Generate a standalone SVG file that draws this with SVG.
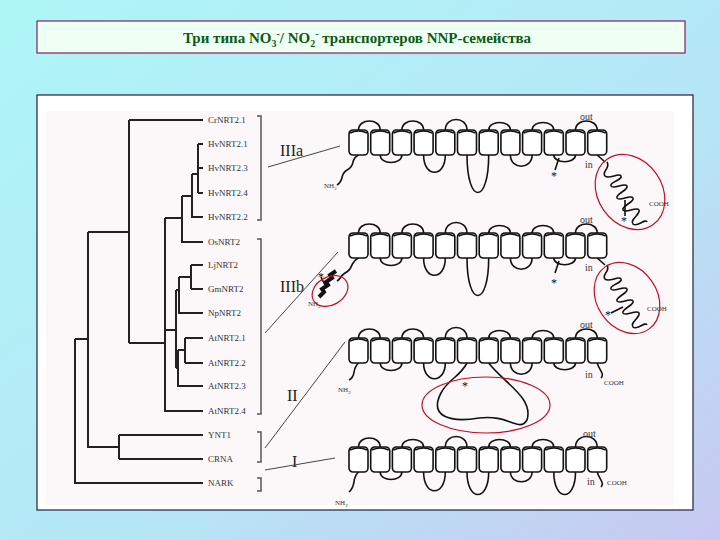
<svg xmlns="http://www.w3.org/2000/svg" width="720" height="540" viewBox="0 0 720 540">
<defs>
<linearGradient id="bg" x1="0" y1="0" x2="1" y2="1"><stop offset="0" stop-color="#aef6f6"/><stop offset="0.6" stop-color="#b6e6f6"/><stop offset="1" stop-color="#c8c8f2"/></linearGradient>
<style>
.t{font-family:"Liberation Serif",serif;fill:#222}
.lf{font-family:"Liberation Serif",serif;font-size:9px;fill:#333}
.br{stroke:#555;stroke-width:1.5;fill:none}
.tr{stroke:#222;stroke-width:2;fill:none}
.ln{stroke:#444;stroke-width:1;fill:none}
.lp{stroke:#111;stroke-width:1.6;fill:none}
.cy{fill:#fff;stroke:#111;stroke-width:1.6}
.red{fill:none;stroke:#c01020;stroke-width:1.2}
.sm{font-family:"Liberation Serif",serif;font-size:7px;fill:#333}
.io{font-family:"Liberation Serif",serif;font-size:10px;fill:#333}
.st{font-family:"Liberation Serif",serif;font-size:12px;fill:#111}
</style>
<g id="cyl"><rect x="0" y="0" width="19" height="25" rx="4" class="cy"/><path d="M1 3 Q9.5 -1 18 3" class="lp" stroke-width="1"/></g>
<g id="top">
<path class="lp" d="M9.5 0 C9.5 -12 31.2 -12 31.2 0 M52.9 0 C52.9 -12 74.6 -12 74.6 0 M96.3 0 C96.3 -14 118 -14 118 0 M139.7 0 C139.7 -10 161.4 -10 161.4 0 M183.1 0 C183.1 -10 204.8 -10 204.8 0 M226.5 0 C226.5 -12 248.2 -12 248.2 0"/>
</g>
<path id="coil" class="lp" d="M0 0 C4 6 -6 10 -2 14 C2 18 12 10 14 14 C16 18 2 20 4 24 C6 28 18 20 20 24 C22 28 8 32 10 36 C12 40 24 32 26 36 C28 40 14 44 16 48 C18 52 30 44 32 48 C34 52 22 58 26 62 C30 66 38 56 40 60"/>
<g id="cyls">
<use href="#cyl" x="0"/><use href="#cyl" x="21.7"/><use href="#cyl" x="43.4"/><use href="#cyl" x="65.1"/><use href="#cyl" x="86.8"/><use href="#cyl" x="108.5"/><use href="#cyl" x="130.2"/><use href="#cyl" x="151.9"/><use href="#cyl" x="173.6"/><use href="#cyl" x="195.3"/><use href="#cyl" x="217"/><use href="#cyl" x="238.7"/>
</g>
</defs>
<rect width="720" height="540" fill="url(#bg)"/>
<rect x="37" y="21" width="648" height="32" fill="#f0fff4" stroke="#802060" stroke-width="1.2"/>
<text x="357" y="43" text-anchor="middle" font-family="Liberation Serif,serif" font-size="15" font-weight="bold" fill="#0a5a14">Три типа NO<tspan font-size="10" dy="4">3</tspan><tspan font-size="10" dy="-10">-</tspan><tspan dy="6">/ NO</tspan><tspan font-size="10" dy="4">2</tspan><tspan font-size="10" dy="-10">-</tspan><tspan dy="6"> транспортеров NNP-семейства</tspan></text>
<rect x="37" y="95" width="656" height="415" fill="#fff" stroke="#202040" stroke-width="1.2"/>
<rect x="46" y="111" width="628" height="394" fill="#fcf8fa"/>

<g id="tree">
<path class="tr" d="M75 339 V483 H203 M75 339 H88 M88 232 V447 H119 M119 435 V459 M119 435 H203 M119 459 H203 M88 232 H129 M129 120 V343 M129 120 H203 M129 343 H165 M165 218 V411 H203 M165 218 H182 M182 196 V242 H203 M182 196 H192 M192 174 V217 H203 M192 174 H198 M198 144 V193 M198 144 H203 M198 168 H203 M198 193 H203 M165 330 H176 M176 290 V368 M176 290 H179 M179 277 V313 H203 M179 277 H191 M191 265 V289 M191 265 H203 M191 289 H203 M176 368 H178 M178 350 V386 H203 M178 350 H185 M185 338 V363 M185 338 H203 M185 363 H203"/>
</g>
<g id="leaves">
<text class="lf" x="208" y="123">CrNRT2.1</text><text class="lf" x="208" y="147">HvNRT2.1</text><text class="lf" x="208" y="171">HvNRT2.3</text><text class="lf" x="208" y="196">HvNRT2.4</text><text class="lf" x="208" y="220">HvNRT2.2</text><text class="lf" x="208" y="245">OsNRT2</text><text class="lf" x="208" y="268">LjNRT2</text><text class="lf" x="208" y="292">GmNRT2</text><text class="lf" x="208" y="316">NpNRT2</text><text class="lf" x="208" y="341">AtNRT2.1</text><text class="lf" x="208" y="366">AtNRT2.2</text><text class="lf" x="208" y="389">AtNRT2.3</text><text class="lf" x="208" y="414">AtNRT2.4</text><text class="lf" x="208" y="438">YNT1</text><text class="lf" x="208" y="462">CRNA</text><text class="lf" x="208" y="486">NARK</text>
</g>
<g id="brackets">
<path class="br" d="M257 116 H261 V220 H257 M257 239 H261 V414 H257 M257 432 H261 V462 H257 M257 478 H261 V491 H257"/>
<text class="t" x="280" y="156" font-size="16">IIIa</text>
<text class="t" x="280" y="292" font-size="16">IIIb</text>
<text class="t" x="287" y="401" font-size="16">II</text>
<text class="t" x="292" y="467" font-size="16">I</text>
<path class="ln" d="M268 167 L340 146 M265 333 L338 252 M265 448 L345 342 M265 470 L335 458"/>
</g>

<g id="type-IIIa" transform="translate(349,130)">
<use href="#top"/>
<path class="lp" d="M31.2 25 C31.2 35 52.9 35 52.9 25 M74.6 25 C74.6 48 96.3 48 96.3 25 M118 25 C118 75 139.7 75 139.7 25 M161.4 25 C161.4 40 183.1 40 183.1 25 M204.8 25 C204.8 34 226.5 34 226.5 25 M9.5 25 C0 30 8 35 -2 40 C-10 45 -4 50 -12 55 M248.2 25 L256 32 M210 28 L206 40 M276 70 L276 86"/>
<use href="#coil" x="258" y="32"/>
<use href="#cyls"/>
<text class="sm" x="-25" y="58">NH<tspan font-size="5" dy="2">2</tspan></text>
<text class="io" x="231" y="-10">out</text>
<text class="io" x="236" y="38">in</text>
<text class="st" x="202" y="50">*</text>
<text class="sm" x="300" y="76">COOH</text>
<text class="st" x="272" y="95">*</text>
</g>
<ellipse class="red" cx="630" cy="192" rx="32" ry="40" transform="rotate(-35 630 192)"/>

<g id="type-IIIb" transform="translate(349,233)">
<use href="#top"/>
<path class="lp" d="M31.2 25 C31.2 35 52.9 35 52.9 25 M74.6 25 C74.6 48 96.3 48 96.3 25 M118 25 C118 75 139.7 75 139.7 25 M161.4 25 C161.4 40 183.1 40 183.1 25 M204.8 25 C204.8 34 226.5 34 226.5 25 M9.5 25 C0 30 5 36 -4 40 C-10 44 -8 46 -12 48 M248.2 25 L256 32 M210 28 L206 40 M274 74 L262 80 M-24 52 L-28 44"/>
<use href="#coil" x="258" y="32"/>
<path d="M-30 64 l5 -5 l-2 -3 l6 -4 l-2 -3 l6 -4 l-2 -3 l6 -4" stroke="#111" stroke-width="4" fill="none"/>
<use href="#cyls"/>
<text class="sm" x="-41" y="73">NH<tspan font-size="5" dy="2">2</tspan></text>
<text class="st" x="-31" y="48">*</text>
<text class="io" x="231" y="-10">out</text>
<text class="io" x="236" y="38">in</text>
<text class="st" x="202" y="54">*</text>
<text class="sm" x="298" y="78">COOH</text>
<text class="st" x="256" y="86">*</text>
</g>
<ellipse class="red" cx="627" cy="298" rx="30" ry="38" transform="rotate(-35 627 298)"/>
<ellipse class="red" cx="330" cy="291" rx="19" ry="14" transform="rotate(-30 330 291)"/>

<g id="type-II" transform="translate(349,338)">
<use href="#top"/>
<path class="lp" d="M31.2 25 C31.2 35 52.9 35 52.9 25 M74.6 25 C74.6 46 96.3 46 96.3 25 M118 25 C110 40 100 40 92 55 C80 78 100 85 130 80 C160 76 170 95 178 82 C185 60 155 45 139.7 25 M161.4 25 C161.4 40 183.1 40 183.1 25 M204.8 25 C204.8 34 226.5 34 226.5 25 M9.5 25 C2 32 8 38 0 42 M248.2 25 C250 32 256 36 252 40"/>
<use href="#cyls"/>
<text class="sm" x="-11" y="54">NH<tspan font-size="5" dy="2">2</tspan></text>
<text class="io" x="231" y="-10">out</text>
<text class="io" x="236" y="40">in</text>
<text class="sm" x="255" y="47">COOH</text>
<text class="st" x="113" y="52">*</text>
</g>
<ellipse class="red" cx="486" cy="405" rx="64" ry="28"/>

<g id="type-I" transform="translate(349,447)">
<path class="lp" d="M9.5 0 C9.5 -12 31.2 -12 31.2 0 M52.9 0 C52.9 -10 74.6 -10 74.6 0 M96.3 0 C96.3 -14 118 -14 118 0 M139.7 0 C139.7 -10 161.4 -10 161.4 0 M183.1 0 C183.1 -10 204.8 -10 204.8 0 M226.5 0 C226.5 -14 248.2 -14 248.2 0 M31.2 25 C31.2 35 52.9 35 52.9 25 M74.6 25 C74.6 50 96.3 50 96.3 25 M118 25 C118 55 139.7 55 139.7 25 M161.4 25 C161.4 38 183.1 38 183.1 25 M204.8 25 C204.8 55 226.5 55 226.5 25 M9.5 25 C2 32 8 38 0 45 M248.2 25 C250 32 256 36 252 40"/>
<use href="#cyls"/>
<text class="sm" x="-14" y="58">NH<tspan font-size="5" dy="2">2</tspan></text>
<text class="io" x="234" y="-10">out</text>
<text class="io" x="238" y="38">in</text>
<text class="sm" x="258" y="38">COOH</text>
</g>
</svg>
